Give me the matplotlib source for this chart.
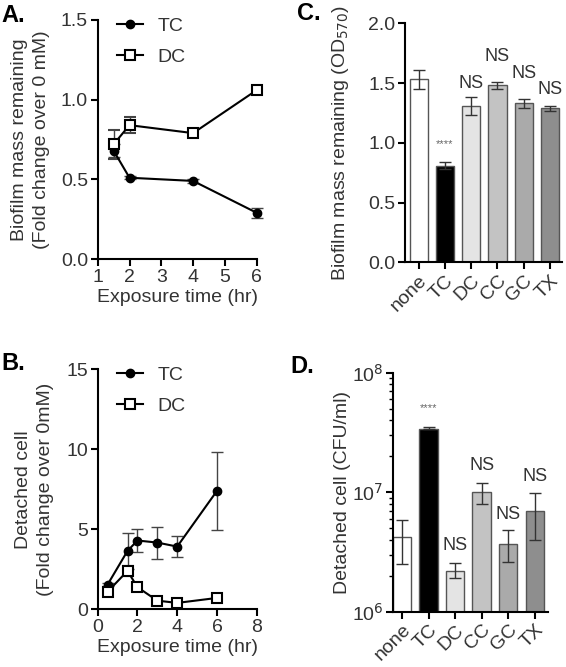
import matplotlib
matplotlib.use("Agg")
import matplotlib.pyplot as plt
import numpy as np
from matplotlib.ticker import LogLocator, NullFormatter
from matplotlib.lines import Line2D

plt.rcParams['font.family'] = ['Liberation Sans', 'DejaVu Sans']

# ---- Data ----
# Panel A
a_time = [1.5, 2, 4, 6]
a_tc = [0.68, 0.51, 0.49, 0.29]
a_tc_err = [0.04, 0.01, 0.01, 0.03]
a_dc = [0.72, 0.84, 0.79, 1.06]
a_dc_err = [0.09, 0.05, 0.01, 0.01]

# Panel B
b_time = [0.5, 1.5, 2, 3, 4, 6]
b_tc = [1.55, 3.65, 4.3, 4.17, 3.92, 7.4]
b_tc_err = [0.1, 1.15, 0.74, 1.0, 0.67, 2.43]
b_dc = [1.1, 2.4, 1.38, 0.54, 0.40, 0.71]
b_dc_err = [0.05, 0.3, 0.05, 0.05, 0.05, 0.05]

# Panel C / D
groups = ['none', 'TC', 'DC', 'CC', 'GC', 'TX']
c_vals = [1.53, 0.81, 1.31, 1.48, 1.33, 1.29]
c_err = [0.08, 0.03, 0.075, 0.03, 0.04, 0.02]
c_sig = ['', '****', 'NS', 'NS', 'NS', 'NS']
c_sig_y = [None, 0.99, 1.50, 1.72, 1.58, 1.45]

d_vals = [4.2e6, 3.4e7, 2.2e6, 1.0e7, 3.7e6, 7.0e6]
d_lo = [2.5e6, 3.35e7, 1.9e6, 8.0e6, 2.6e6, 3.95e6]
d_hi = [5.85e6, 3.5e7, 2.55e6, 1.2e7, 4.8e6, 9.9e6]
d_sig = ['', '****', 'NS', 'NS', 'NS', 'NS']
d_sig_y = [None, 10**7.70, 10**6.55, 10**7.22, 10**6.81, 10**7.13]

bar_colors = ['#ffffff', '#000000', '#e4e4e4', '#c3c3c3', '#aaaaaa', '#8e8e8e']

TXT = '#333333'
FS = 14

fig = plt.figure(figsize=(5.66, 6.67), dpi=100)

def style(ax):
    for s in ['top', 'right']:
        ax.spines[s].set_visible(False)
    for s in ['left', 'bottom']:
        ax.spines[s].set_linewidth(1.5)
        ax.spines[s].set_color('black')
    ax.tick_params(axis='both', which='major', direction='out', length=5, width=1.5,
                   labelsize=FS, labelcolor=TXT, color='black', pad=2)

def W(px): return px / 566
def H(px): return px / 667

leg_handles = [
    Line2D([], [], color='black', marker='o', ms=6, lw=1.5),
    Line2D([], [], color='black', marker='s', ms=7, mfc='white', mec='black', mew=1.5, lw=1.5),
]

def legend(ax, w, h):
    ax.legend(leg_handles, ['TC', 'DC'], loc='upper left',
              bbox_to_anchor=((117 - 97.7) / w, 1 + 3 / h),
              frameon=False, fontsize=FS, handlelength=1.35, labelspacing=0.7,
              handletextpad=0.75, labelcolor=TXT, borderpad=0, borderaxespad=0)

# ---- Panel A ----
axA = fig.add_axes([W(97.7), 1 - H(259), W(159), H(239)])
style(axA)
axA.errorbar(a_time, a_tc, yerr=a_tc_err, color='black', marker='o', ms=6, lw=1.5,
             ecolor='#444444', elinewidth=1, capsize=4, zorder=3, clip_on=False)
axA.errorbar(a_time, a_dc, yerr=a_dc_err, color='black', marker='s', ms=7, mfc='white',
             mec='black', mew=1.5, lw=1.5, ecolor='#444444', elinewidth=1, capsize=4,
             zorder=3, clip_on=False)
axA.set_xlim(1, 6)
axA.set_ylim(0, 1.5)
axA.set_xticks([1, 2, 3, 4, 5, 6])
axA.set_yticks([0, 0.5, 1.0, 1.5])
axA.set_yticklabels(['0.0', '0.5', '1.0', '1.5'])
axA.set_xlabel('Exposure time (hr)', fontsize=FS, color=TXT, labelpad=2)
axA.set_ylabel('Biofilm mass remaining\n(Fold change over 0 mM)', fontsize=FS, color=TXT,
               linespacing=1.35)
axA.yaxis.set_label_coords((50 - 97.7) / 159, 0.5)
legend(axA, 159, 239)

# ---- Panel B ----
axB = fig.add_axes([W(97.7), 1 - H(609.3), W(159), H(240)])
style(axB)
axB.errorbar(b_time, b_tc, yerr=b_tc_err, color='black', marker='o', ms=6, lw=1.5,
             ecolor='#444444', elinewidth=1, capsize=4, zorder=3)
axB.errorbar(b_time, b_dc, yerr=b_dc_err, color='black', marker='s', ms=7, mfc='white',
             mec='black', mew=1.5, lw=1.5, ecolor='#444444', elinewidth=1, capsize=4,
             zorder=3)
axB.set_xlim(0, 8)
axB.set_ylim(0, 15)
axB.set_xticks([0, 2, 4, 6, 8])
axB.set_yticks([0, 5, 10, 15])
axB.set_xlabel('Exposure time (hr)', fontsize=FS, color=TXT, labelpad=2)
axB.set_ylabel('Detached cell\n(Fold change over 0mM)', fontsize=FS, color=TXT,
               linespacing=1.35)
axB.yaxis.set_label_coords((54 - 97.7) / 159, 0.5)
legend(axB, 159, 240)

# ---- Panel C ----
axC = fig.add_axes([W(405.3), 1 - H(262.3), W(157), H(239)])
style(axC)
x = np.arange(len(groups))
axC.bar(x, c_vals, width=0.69, color=bar_colors, edgecolor='#555555', linewidth=1, zorder=2)
axC.errorbar(x, c_vals, yerr=c_err, fmt='none', ecolor='#333333', elinewidth=1, capsize=4, zorder=3)
axC.set_xlim(-0.51, 5.47)
axC.set_ylim(0, 2.0)
axC.set_yticks([0, 0.5, 1.0, 1.5, 2.0])
axC.set_yticklabels(['0.0', '0.5', '1.0', '1.5', '2.0'])
axC.set_xticks(x)
axC.set_xticklabels(groups, rotation=45, ha='right', rotation_mode='anchor')
axC.set_ylabel('Biofilm mass remaining (OD$_{570}$)', fontsize=FS, color=TXT)
axC.yaxis.set_label_coords((351 - 405.3) / 157, 0.5)
for i, (s, yy) in enumerate(zip(c_sig, c_sig_y)):
    if not s:
        continue
    if s == '****':
        axC.text(i, yy, s, ha='center', va='center', fontsize=8, color='#666666')
    else:
        axC.text(i, yy, s, ha='center', va='center', fontsize=13, color=TXT)

# ---- Panel D ----
axD = fig.add_axes([W(393), 1 - H(611.7), W(155), H(239)])
style(axD)
axD.set_yscale('log')
axD.bar(x, d_vals, width=0.69, color=bar_colors, edgecolor='#555555', linewidth=1, zorder=2)
d_err = [np.array(d_vals) - np.array(d_lo), np.array(d_hi) - np.array(d_vals)]
axD.errorbar(x, d_vals, yerr=d_err, fmt='none', ecolor='#333333', elinewidth=1, capsize=4, zorder=3)
axD.set_xlim(-0.34, 5.5)
axD.set_ylim(1e6, 1e8)
axD.set_yticks([1e6, 1e7, 1e8])
axD.set_yticklabels(['10$^{6}$', '10$^{7}$', '10$^{8}$'])
axD.yaxis.set_minor_locator(LogLocator(base=10, subs=np.arange(2, 10)))
axD.yaxis.set_minor_formatter(NullFormatter())
axD.tick_params(axis='y', which='minor', length=3, width=1, color='black')
axD.set_xticks(x)
axD.set_xticklabels(groups, rotation=45, ha='right', rotation_mode='anchor')
axD.set_ylabel('Detached cell (CFU/ml)', fontsize=FS, color=TXT)
axD.yaxis.set_label_coords((351 - 393) / 155, 0.5)
for i, (s, yy) in enumerate(zip(d_sig, d_sig_y)):
    if not s:
        continue
    if s == '****':
        axD.text(i, yy, s, ha='center', va='center', fontsize=8, color='#666666')
    else:
        axD.text(i, yy, s, ha='center', va='center', fontsize=13, color=TXT)

# Panel labels
fig.text(W(1), 1 - H(22), 'A.', fontsize=17, fontweight='bold', va='baseline', ha='left')
fig.text(W(1), 1 - H(370), 'B.', fontsize=17, fontweight='bold', va='baseline', ha='left')
fig.text(W(297), 1 - H(20), 'C.', fontsize=17, fontweight='bold', va='baseline', ha='left')
fig.text(W(290), 1 - H(373), 'D.', fontsize=17, fontweight='bold', va='baseline', ha='left')

fig.savefig('out.png', dpi=100)
